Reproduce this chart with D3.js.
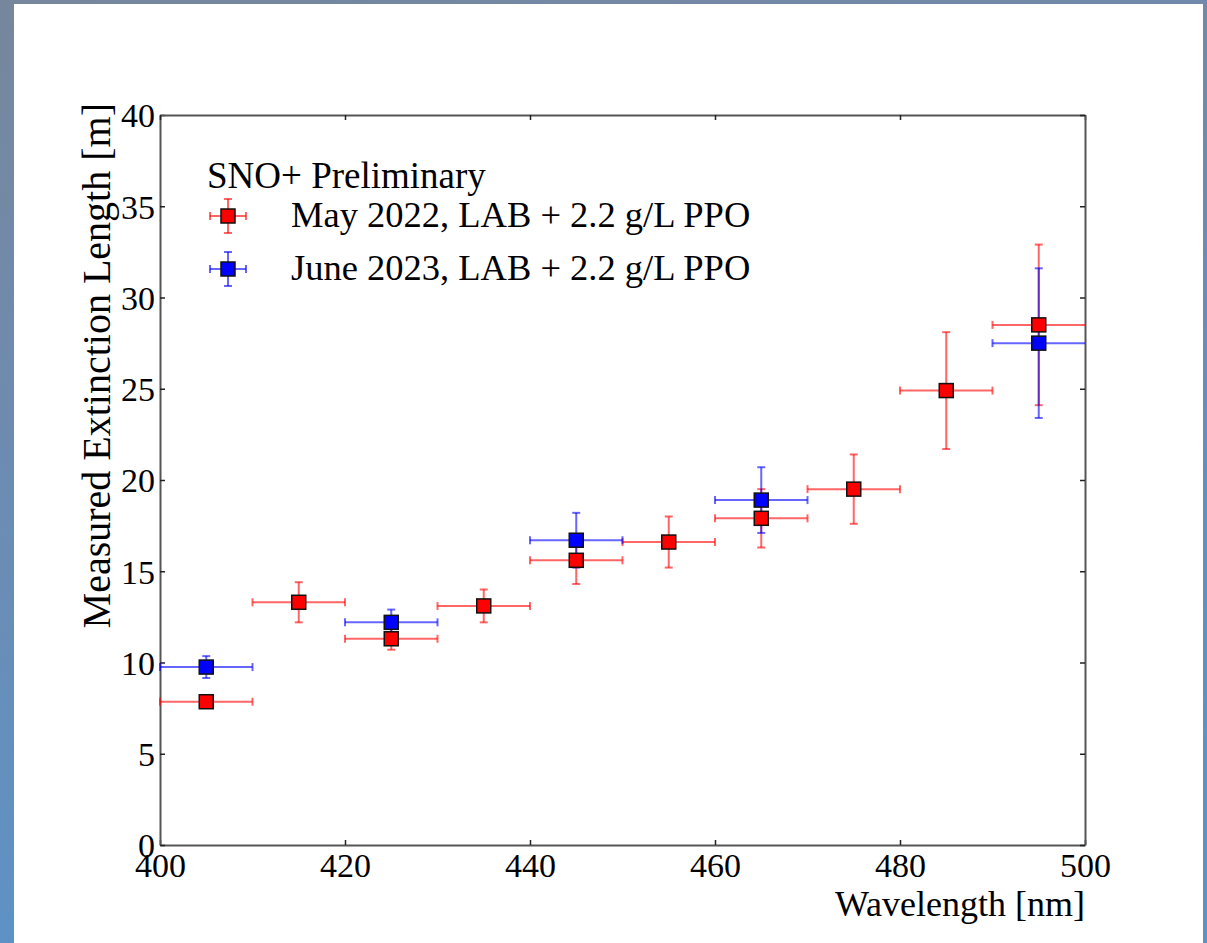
<!DOCTYPE html>
<html>
<head>
<meta charset="utf-8">
<script src="https://cdn.jsdelivr.net/npm/d3@7"></script>
<style>
  html, body { margin: 0; padding: 0; }
  body { width: 1207px; height: 943px; overflow: hidden; }
  svg text { font-family: "Liberation Serif", "Times New Roman", serif; fill: #000; }
</style>
</head>
<body>
<svg id="chart" width="1207" height="943"></svg>
<script>
// SNO+ extinction length vs wavelength
const mayWavelength = [405, 415, 425, 435, 445, 455, 465, 475, 485, 495];
const mayLength = [7.85, 13.3, 11.3, 13.1, 15.6, 16.6, 17.9, 19.5, 24.9, 28.5];
const mayErr = [0.2, 1.1, 0.6, 0.9, 1.3, 1.4, 1.6, 1.9, 3.2, 4.4];

const juneWavelength = [405, 425, 445, 465, 495];
const juneLength = [9.75, 12.2, 16.7, 18.9, 27.5];
const juneErr = [0.6, 0.7, 1.5, 1.8, 4.1];

const binHalfWidth = 5;
const xTicks = [400, 420, 440, 460, 480, 500];
const yTicks = [0, 5, 10, 15, 20, 25, 30, 35, 40];

const series = [
	{name: 'May 2022, LAB + 2.2 g/L PPO', x: mayWavelength, y: mayLength, err: mayErr,
		fill: '#ff0000', bar: 'rgba(255,0,0,0.6)'},
	{name: 'June 2023, LAB + 2.2 g/L PPO', x: juneWavelength, y: juneLength, err: juneErr,
		fill: '#0000ff', bar: 'rgba(0,0,255,0.6)'}
];

const svg = d3.select('svg#chart');
const W = 1207, H = 943;
const plot = {left: 160, right: 1085, top: 115, bottom: 845};

// slide background + white panel
const defs = svg.append('defs');
const grad = defs.append('linearGradient').attr('id', 'bg')
	.attr('x1', 0).attr('y1', 0).attr('x2', 0.3).attr('y2', 1);
grad.append('stop').attr('offset', 0).attr('stop-color', '#76879d');
grad.append('stop').attr('offset', 0.5).attr('stop-color', '#6c8cb3');
grad.append('stop').attr('offset', 1).attr('stop-color', '#5b93c8');
svg.append('rect').attr('width', W).attr('height', H).attr('fill', 'url(#bg)');
svg.append('rect').attr('x', 14).attr('y', 4).attr('width', 1189).attr('height', H - 4).attr('fill', '#fff');

const x = d3.scaleLinear().domain([400, 500]).range([plot.left, plot.right]);
const y = d3.scaleLinear().domain([0, 40]).range([plot.bottom, plot.top]);

// axes, ticks pointing inwards on all four sides
const axisColor = '#555';
const fmt = d3.format('d');
const axes = svg.append('g');
const xAxisBottom = axes.append('g').attr('transform', `translate(0,${plot.bottom})`)
	.call(d3.axisBottom(x).tickValues(xTicks).tickSizeInner(-5).tickSizeOuter(0).tickPadding(8).tickFormat(fmt));
const yAxisLeft = axes.append('g').attr('transform', `translate(${plot.left},0)`)
	.call(d3.axisLeft(y).tickValues(yTicks).tickSizeInner(-5).tickSizeOuter(0).tickPadding(5).tickFormat(fmt));
axes.append('g').attr('transform', `translate(0,${plot.top})`)
	.call(d3.axisTop(x).tickValues(xTicks).tickSizeInner(-5).tickSizeOuter(0).tickFormat(''));
axes.append('g').attr('transform', `translate(${plot.right},0)`)
	.call(d3.axisRight(y).tickValues(yTicks).tickSizeInner(-5).tickSizeOuter(0).tickFormat(''));
axes.selectAll('.domain').attr('stroke', axisColor).attr('stroke-width', 2);
axes.selectAll('.tick line').attr('stroke', '#222').attr('stroke-width', 1.5);
axes.selectAll('.tick text').attr('font-size', 34).attr('font-family', '"Liberation Serif", serif').attr('fill', '#000');
xAxisBottom.selectAll('.tick text').attr('dy', '0.71em');
yAxisLeft.selectAll('.tick text').attr('dy', '0.35em');

// axis titles
svg.append('text').attr('x', plot.right).attr('y', 916).attr('text-anchor', 'end')
	.attr('font-size', 36).text('Wavelength [nm]');
svg.append('text').attr('transform', `translate(110,${plot.top - 12}) rotate(-90)`)
	.attr('text-anchor', 'end').attr('font-size', 40).text('Measured Extinction Length [m]');

// error bars then markers
const cap = 4, box = 14;
const marks = svg.append('g');
const drawBar = (g, cx, cy, xl, xr, yt, yb, color, clipRight) => {
	g.append('line').attr('x1', xl).attr('x2', xr).attr('y1', cy).attr('y2', cy);
	g.append('line').attr('x1', cx).attr('x2', cx).attr('y1', yt).attr('y2', yb);
	g.append('line').attr('x1', xl).attr('x2', xl).attr('y1', cy - cap).attr('y2', cy + cap);
	if (!clipRight) g.append('line').attr('x1', xr).attr('x2', xr).attr('y1', cy - cap).attr('y2', cy + cap);
	g.append('line').attr('x1', cx - cap).attr('x2', cx + cap).attr('y1', yt).attr('y2', yt);
	g.append('line').attr('x1', cx - cap).attr('x2', cx + cap).attr('y1', yb).attr('y2', yb);
	g.selectAll('line').attr('stroke', color).attr('stroke-width', 2);
};
series.forEach(s => {
	s.x.forEach((wl, i) => {
		const g = marks.append('g');
		drawBar(g, x(wl), y(s.y[i]), x(wl - binHalfWidth), x(wl + binHalfWidth),
			y(s.y[i] + s.err[i]), y(s.y[i] - s.err[i]), s.bar, wl + binHalfWidth >= 500);
	});
});
series.slice().reverse().forEach(s => {
	marks.selectAll(null).data(s.x.map((wl, i) => [wl, s.y[i]])).enter().append('rect')
		.attr('x', d => x(d[0]) - box / 2).attr('y', d => y(d[1]) - box / 2)
		.attr('width', box).attr('height', box)
		.attr('fill', s.fill).attr('stroke', '#111').attr('stroke-width', 1.5);
});

// legend
const legend = svg.append('g');
legend.append('text').attr('x', 207).attr('y', 188).attr('font-size', 37).text('SNO+ Preliminary');
series.forEach((s, i) => {
	const cy = 216 + i * 53, cx = 228;
	const g = legend.append('g');
	drawBar(g, cx, cy, cx - 18, cx + 18, cy - 17, cy + 17, s.bar, false);
	g.append('rect').attr('x', cx - box / 2).attr('y', cy - box / 2).attr('width', box).attr('height', box)
		.attr('fill', s.fill).attr('stroke', '#111').attr('stroke-width', 1.5);
	legend.append('text').attr('x', 291).attr('y', cy + 11).attr('font-size', 36.5).text(s.name);
});
</script>
</body>
</html>
